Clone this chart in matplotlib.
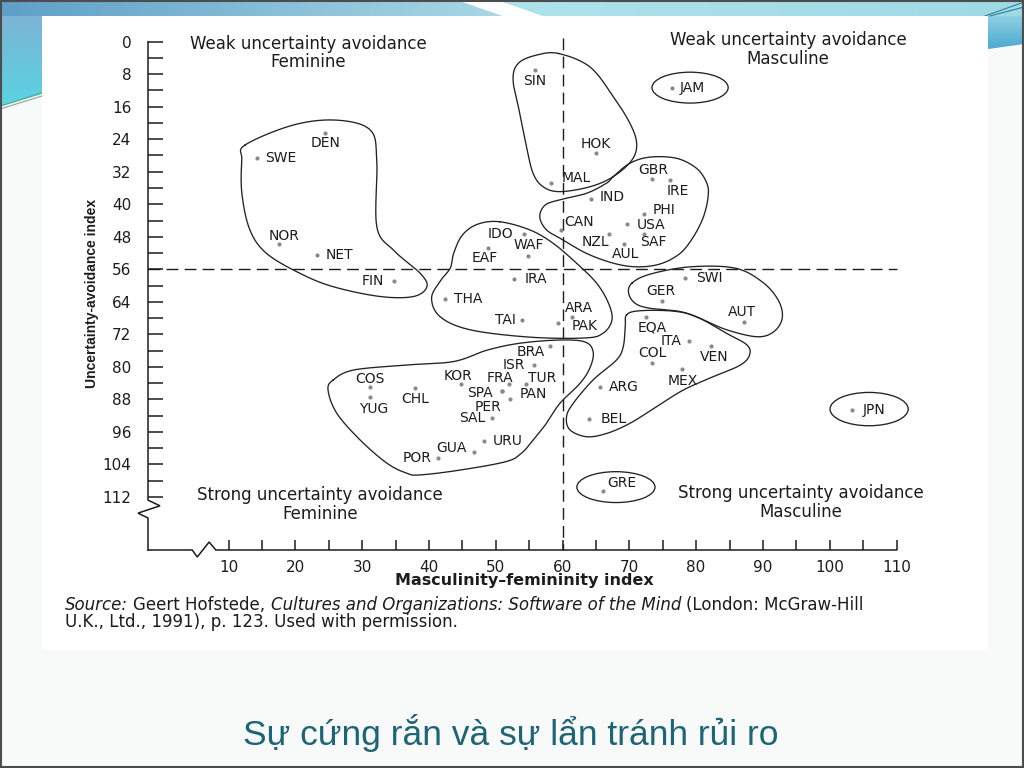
import numpy as np
import matplotlib
matplotlib.use("Agg")
import matplotlib.pyplot as plt
from matplotlib.patches import Ellipse, Polygon, Rectangle
from matplotlib.colors import LinearSegmentedColormap

# ------------------------------------------------------------------ data
countries = ["DEN", "SWE", "NOR", "NET", "FIN",
             "SIN", "HOK", "MAL", "JAM",
             "GBR", "IRE", "IND", "PHI", "USA", "CAN", "NZL", "SAF", "AUL",
             "IDO", "WAF", "EAF", "IRA", "THA", "TAI", "ARA", "PAK",
             "GER", "SWI", "AUT",
             "EQA", "ITA", "VEN", "COL", "MEX", "ARG", "BEL",
             "JPN", "GRE",
             "BRA", "ISR", "KOR", "FRA", "TUR", "SPA", "PER", "PAN",
             "SAL", "URU", "GUA", "POR", "COS", "YUG", "CHL"]
masculinity = [24.5, 14.3, 17.5, 23.3, 34.8,
               55.9, 65.0, 58.3, 76.4,
               73.4, 76.1, 64.2, 72.2, 69.7, 59.8, 66.9, 72.2, 69.2,
               54.3, 54.8, 48.9, 52.7, 42.4, 53.9, 61.4, 59.4,
               74.9, 78.4, 87.2,
               72.5, 78.9, 82.3, 73.4, 77.9, 65.6, 63.9,
               103.4, 66.1,
               58.1, 55.8, 44.8, 52.0, 54.6, 50.9, 50.9, 52.1,
               49.5, 48.3, 46.8, 41.3, 31.2, 31.2, 37.9]
uncertainty = [22.4, 28.7, 49.9, 52.5, 58.9,
               7.0, 27.3, 34.8, 11.4,
               33.9, 34.0, 38.6, 42.4, 44.8, 46.3, 47.3, 47.2, 49.9,
               47.2, 52.7, 50.7, 58.3, 63.4, 68.6, 67.7, 69.3,
               63.8, 58.1, 69.0,
               67.7, 73.6, 74.9, 79.1, 80.6, 85.0, 92.8,
               90.6, 110.5,
               74.9, 79.6, 84.2, 84.2, 84.2, 85.9, 85.9, 87.8,
               92.5, 98.3, 100.9, 102.5, 85.0, 87.4, 85.1]

y_ticks = list(range(0, 113, 8))
y_minor = list(range(4, 112, 8))
x_ticks = list(range(10, 111, 10))
x_minor = list(range(15, 110, 10))

quadrant_texts = ["Weak uncertainty avoidance\nFeminine",
                  "Weak uncertainty avoidance\nMasculine",
                  "Strong uncertainty avoidance\nFeminine",
                  "Strong uncertainty avoidance\nMasculine"]
x_label = "Masculinity\u2013femininity index"
y_label = "Uncertainty-avoidance index"
title = "Sự cứng rắn và sự lẩn tránh rủi ro"
source_line1 = [("Source:", "italic"), ("Geert Hofstede,", "normal"),
                ("Cultures and Organizations: Software of the Mind", "italic"),
                ("(London: McGraw-Hill", "normal")]
source_line2 = [("U.K., Ltd., 1991), p. 123. Used with permission.", "normal")]

# ------------------------------------------------- layout / style (not data)
# label placement: (dx px, dy px downward, horizontal alignment)
label_place = {
    "DEN": (0, 10.6, "center"), "SWE": (8.4, 0, "left"), "NOR": (5, -8.6, "center"),
    "NET": (8.7, 0, "left"), "FIN": (-10, 0, "right"), "SIN": (0, 10.7, "center"),
    "HOK": (0, -8.7, "center"), "MAL": (10.7, -5, "left"), "JAM": (7.7, 0, "left"),
    "GBR": (1, -9.3, "center"), "IRE": (7.3, 10.7, "center"), "IND": (9, -1.4, "left"),
    "PHI": (9, -4, "left"), "USA": (9, 1, "left"), "CAN": (3, -8, "left"),
    "NZL": (-12.7, 8.3, "center"), "SAF": (9.6, 8.3, "center"), "AUL": (2, 9.4, "center"),
    "IDO": (-11, 0, "right"), "WAF": (1, -10.7, "center"), "EAF": (-3.3, 10, "center"),
    "IRA": (11.3, 0, "left"), "THA": (8.7, 0, "left"), "TAI": (-6, 0, "right"),
    "ARA": (-6.7, -9, "left"), "PAK": (13.4, 2.7, "left"), "GER": (-1.6, -10, "center"),
    "SWI": (11, 0, "left"), "AUT": (-2.3, -10.3, "center"), "EQA": (6.3, 11, "center"),
    "ITA": (-7, 0, "right"), "VEN": (2.3, 11.3, "center"), "COL": (0, -10.6, "center"),
    "MEX": (1, 11.7, "center"), "ARG": (9.3, 0, "left"), "BEL": (11.7, 0, "left"),
    "JPN": (10, 0, "left"), "GRE": (4.4, -7.4, "left"), "BRA": (-5, 6.3, "right"),
    "ISR": (-9.3, 0, "right"), "KOR": (-3, -8.3, "center"), "FRA": (-9.3, -6.3, "center"),
    "TUR": (15.4, -6.3, "center"), "SPA": (-8.4, 2.5, "right"), "PER": (-13.4, 16, "center"),
    "PAN": (10, -4.7, "left"), "SAL": (-7.3, 0.5, "right"), "URU": (8.4, 0, "left"),
    "GUA": (-7.3, -4, "right"), "POR": (-5.6, 0, "right"), "COS": (0, -8.6, "center"),
    "YUG": (3.3, 12.3, "center"), "CHL": (0, 11, "center"),
}

# hand-drawn cluster outlines (data units: masculinity, uncertainty)
outlines = [
    [(12.5, 25.4), (19.7, 20.5), (26.2, 19.3), (31.2, 21.7), (32.2, 29.1), (32.2, 45.5),
     (34.7, 51.3), (38.7, 57.0), (39.7, 60.3), (37.7, 62.7), (32.7, 62.7), (25.7, 60.3),
     (20.7, 57.0), (15.7, 52.1), (13.2, 46.3), (12.0, 37.3), (12.0, 29.1)],
    [(59.4, 2.9), (64.1, 6.2), (67.6, 13.5), (70.1, 20.1), (71.1, 25.0), (70.4, 29.1),
     (67.6, 33.2), (64.1, 35.7), (59.6, 36.9), (57.1, 35.7), (55.6, 32.4), (54.6, 25.8),
     (53.6, 17.6), (52.6, 9.4), (53.4, 5.3), (56.1, 3.3)],
    [(67.6, 33.2), (70.1, 29.9), (73.1, 28.4), (77.1, 28.7), (80.1, 31.2), (81.6, 34.8),
     (81.8, 38.1), (81.1, 43.1), (79.6, 48.0), (77.6, 52.1), (74.6, 54.7), (71.1, 55.4),
     (67.6, 54.5), (63.6, 52.1), (60.1, 48.8), (57.6, 46.3), (56.6, 43.1), (57.4, 40.2),
     (59.6, 38.9), (63.6, 37.3), (66.6, 34.8)],
    [(50.6, 44.3), (55.1, 46.3), (58.6, 49.6), (62.1, 54.5), (65.1, 59.4), (66.9, 64.4),
     (67.4, 68.5), (66.1, 71.7), (63.4, 72.9), (55.1, 72.7), (46.2, 70.9), (41.7, 67.7),
     (40.4, 63.1), (41.7, 58.9), (43.2, 55.7), (43.7, 52.1), (45.0, 47.6), (47.3, 44.9)],
    [(70.4, 59.4), (73.1, 57.2), (79.1, 55.4), (85.8, 55.7), (89.9, 59.1), (92.3, 63.6),
     (92.9, 68.0), (91.6, 71.4), (89.1, 72.6), (84.6, 70.9), (80.6, 68.1), (77.6, 66.4),
     (73.1, 65.6), (70.9, 64.4), (69.9, 61.9)],
    [(69.6, 67.2), (71.6, 66.2), (76.6, 66.3), (80.1, 67.7), (84.6, 71.8), (87.6, 74.6),
     (88.0, 77.1), (86.6, 79.6), (82.6, 82.4), (78.1, 85.7), (74.1, 89.8), (70.1, 93.9),
     (66.6, 96.4), (63.6, 97.2), (61.1, 95.5), (60.6, 92.3), (61.6, 89.0), (64.6, 83.2),
     (68.1, 78.3), (69.1, 75.0), (69.4, 70.1)],
    [(25.7, 83.2), (28.7, 80.8), (36.2, 79.6), (43.7, 78.7), (48.7, 75.9), (53.6, 74.2),
     (59.6, 73.4), (63.4, 73.9), (64.6, 76.4), (64.1, 80.3), (62.6, 84.1), (59.6, 89.0),
     (57.6, 93.9), (55.6, 98.0), (53.9, 101.2), (51.6, 103.3), (44.7, 105.4), (38.7, 106.6),
     (36.7, 106.2), (33.7, 103.7), (29.7, 98.0), (26.2, 91.4), (24.9, 85.7)],
]
ellipses = [((79.1, 11.3), 11.4, 7.6), ((105.9, 90.4), 11.7, 8.2), ((68.0, 109.6), 11.7, 7.6)]
quadrant_pos = [(22.0, 2.8), (93.8, 2.0), (23.7, 113.8), (95.7, 113.3)]

W, H = 1024, 768
X0PX, XS = 161.7, 6.68      # pixel of masculinity 0, pixels per unit
Y0PX, YS = 41.7, 4.064      # pixel of uncertainty 0, pixels per unit
INK = "#1c1c1c"
LABEL_SIZE = 10

fig = plt.figure(figsize=(W / 100, H / 100), dpi=100)

# ---------------------------------------------------------- slide backdrop
bg = fig.add_axes([0, 0, 1, 1], zorder=-10)
bg.set_autoscale_on(False)
bg.set_xlim(0, W)
bg.set_ylim(H, 0)
bg.axis("off")
bg.add_patch(Rectangle((0, 0), W, H, fc="#f8f9f9", ec="none", zorder=0))


def grad_poly(verts, c1, c2, horizontal=True, z=1):
    poly = Polygon(verts, closed=True, fc="none", ec="none")
    bg.add_patch(poly)
    xs = [v[0] for v in verts]
    ys = [v[1] for v in verts]
    cmap = LinearSegmentedColormap.from_list("g", [c1, c2])
    arr = np.linspace(0, 1, 256)[None, :] if horizontal else np.linspace(0, 1, 256)[:, None]
    im = bg.imshow(arr, cmap=cmap, extent=(min(xs), max(xs), max(ys), min(ys)),
                   aspect="auto", zorder=z, interpolation="bilinear")
    im.set_clip_path(poly)


grad_poly([(0, 0), (457, 0), (503, 16), (0, 16)], "#5f9fc8", "#a9d8e6")
grad_poly([(497, 0), (1024, 0), (1024, 16), (542, 16)], "#aee3ea", "#9fd9e6")
bg.add_patch(Polygon([(457, 0), (497, 0), (542, 16), (503, 16)], fc="#ffffff", ec="none", zorder=2))
grad_poly([(0, 16), (42, 16), (42, 93), (0, 105)], "#7cb4d4", "#5ad3e2", horizontal=False)
bg.plot([0, 42], [106, 93], color="#3fb8a8", lw=1.2, zorder=3)
bg.plot([0, 42], [109, 96], color="#9a9a9a", lw=0.8, zorder=3)
grad_poly([(988, 16), (1024, 16), (1024, 44), (988, 49)], "#8fd0e4", "#4aa8d0", horizontal=False)
bg.plot([985, 1024], [16, 2], color="#2f7f99", lw=0.8, zorder=3)
bg.plot([990, 1024], [16, 7], color="#2f7f99", lw=0.8, zorder=3)
bg.add_patch(Rectangle((42, 16), 946, 634, fc="#ffffff", ec="none", zorder=4))
bg.add_patch(Rectangle((0.75, 0.75), W - 1.5, H - 1.5, fill=False, ec="#4d4d4d", lw=1.5, zorder=5))

# --------------------------------------------------------------- chart axes
L_PX, R_PX, T_PX, B_PX = 148, 990, 20, 550
ax = fig.add_axes([L_PX / W, 1 - B_PX / H, (R_PX - L_PX) / W, (B_PX - T_PX) / H])
x_left = (L_PX - X0PX) / XS
y_bot = (B_PX - Y0PX) / YS
ax.set_xlim(x_left, (R_PX - X0PX) / XS)
ax.set_ylim(y_bot, (T_PX - Y0PX) / YS)
ax.patch.set_alpha(0)
for s in ax.spines.values():
    s.set_visible(False)

ax.set_yticks(y_ticks, [str(v) for v in y_ticks])
ax.set_yticks(y_minor, minor=True)
ax.set_xticks(x_ticks, [str(v) for v in x_ticks])
ax.set_xticks(x_minor, minor=True)
ax.tick_params(axis="y", which="both", direction="in", length=10.5, width=1.1,
               color=INK, pad=12, labelsize=11, labelcolor=INK)
ax.tick_params(axis="x", which="both", direction="in", length=7.5, width=1.1,
               color=INK, pad=7, labelsize=11, labelcolor=INK)

# axis lines with break marks
px = 1.0 / XS
py = 1.0 / YS
ax.plot([x_left, x_left, x_left + 12 * px, x_left - 10 * px, x_left, x_left],
        [0, 112.8, 114.2, 116.0, 117.2, y_bot], color=INK, lw=1.1, clip_on=False,
        solid_joinstyle="miter")
ax.plot([x_left, 4.57, 5.32, 7.1, 8.1, 110],
        [y_bot, y_bot, y_bot + 7 * py, y_bot - 8 * py, y_bot, y_bot],
        color=INK, lw=1.1, clip_on=False, solid_joinstyle="miter")

# quadrant dividers
ax.plot([60, 60], [-0.9, y_bot], color=INK, lw=1.0, dashes=(8.5, 4.5), clip_on=False)
ax.plot([x_left, 110], [56, 56], color=INK, lw=1.0, dashes=(8.5, 4.5), clip_on=False)


def smooth_closed(pts, n=24):
    P = np.asarray(pts, float)
    N = len(P)
    t = np.linspace(0, 1, n, endpoint=False)[:, None]
    segs = []
    for i in range(N):
        p0, p1, p2, p3 = P[(i - 1) % N], P[i], P[(i + 1) % N], P[(i + 2) % N]
        segs.append(0.5 * (2 * p1 + (-p0 + p2) * t + (2 * p0 - 5 * p1 + 4 * p2 - p3) * t ** 2
                           + (-p0 + 3 * p1 - 3 * p2 + p3) * t ** 3))
    out = np.vstack(segs + [P[:1]])
    return out[:, 0], out[:, 1]


for pts in outlines:
    xs, ys = smooth_closed(pts)
    ax.plot(xs, ys, color="#222222", lw=0.95, clip_on=False)
for (c, w, h) in ellipses:
    ax.add_patch(Ellipse(c, w, h, fill=False, ec="#222222", lw=0.95, clip_on=False))

# country points and labels
ax.scatter(masculinity, uncertainty, s=9, color="#8a8a8a", zorder=3, clip_on=False, linewidths=0)
for name, mx, ux in zip(countries, masculinity, uncertainty):
    dx, dy, ha = label_place[name]
    ax.annotate(name, (mx, ux), xytext=(dx * 0.72, -dy * 0.72), textcoords="offset points",
                ha=ha, va="center", fontsize=LABEL_SIZE, color=INK, annotation_clip=False)

for txt, (qx, qy) in zip(quadrant_texts, quadrant_pos):
    ax.text(qx, qy, txt, ha="center", va="center", fontsize=12, color=INK, linespacing=1.05,
            clip_on=False)

# axis titles
fig.text(524 / W, 1 - 581 / H, x_label, ha="center", va="center", fontsize=11.5,
         fontweight="bold", color=INK)
fig.text(92 / W, 1 - 293 / H, y_label, ha="center", va="center", fontsize=10,
         fontweight="bold", color=INK, rotation=90, family=["Liberation Sans", "DejaVu Sans"])

# source note with mixed styles
SRC_SIZE = 12
renderer = fig.canvas.get_renderer()
probe = fig.text(0, 0, "a a", fontsize=SRC_SIZE)
probe2 = fig.text(0, 0, "aa", fontsize=SRC_SIZE)
space_px = probe.get_window_extent(renderer).width - probe2.get_window_extent(renderer).width
probe.remove()
probe2.remove()


def rich_line(x_px, y_px, parts):
    x = x_px
    for s, style in parts:
        t = fig.text(x / W, 1 - y_px / H, s, fontsize=SRC_SIZE, fontstyle=style, color=INK,
                     ha="left", va="center")
        x = t.get_window_extent(renderer).x1 + space_px


rich_line(65, 605, source_line1)
rich_line(65, 622, source_line2)

fig.text(511 / W, 1 - 733 / H, title, ha="center", va="center", fontsize=25.5, color="#1d6476",
         family=["Liberation Sans", "DejaVu Sans"])

fig.savefig("out.png", dpi=100)
